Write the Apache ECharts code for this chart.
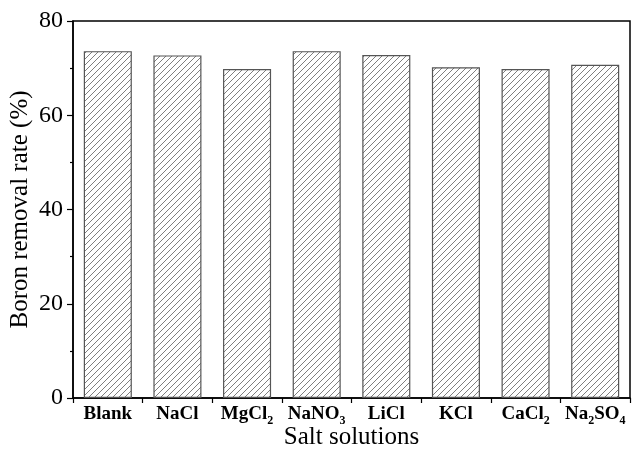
<!DOCTYPE html>
<html><head><meta charset="utf-8">
<script src="https://cdn.jsdelivr.net/npm/echarts@6/dist/echarts.min.js"></script>
<style>html,body{margin:0;padding:0;background:#fff}#c{width:641px;height:452px}</style>
</head><body><div id="c"></div>
<script>
var categories = ['Blank','NaCl','MgCl2','NaNO3','LiCl','KCl','CaCl2','Na2SO4'];
var removalRate = [73.6, 72.7, 69.8, 73.6, 72.8, 70.2, 69.8, 70.7];
var yTicks = [0, 20, 40, 60, 80];

function hatch(){
  var s = 6;
  var cv = document.createElement('canvas');
  cv.width = s; cv.height = s;
  var g = cv.getContext('2d');
  g.fillStyle = '#fff'; g.fillRect(0,0,s,s);
  g.strokeStyle = '#707070'; g.lineWidth = 0.9;
  g.beginPath();
  g.moveTo(0,s); g.lineTo(s,0);
  g.moveTo(-1,1); g.lineTo(1,-1);
  g.moveTo(s-1,s+1); g.lineTo(s+1,s-1);
  g.stroke();
  return cv;
}
function richLabel(v){
  var parts = v.split(/(\d)/);
  var out = '';
  parts.forEach(function(p){
    if (p === '') return;
    if (/^\d$/.test(p)) out += '{sub|' + p + '}';
    else out += '{n|' + p + '}';
  });
  return out;
}
var chart = echarts.init(document.getElementById('c'), null, {renderer:'canvas'});
var font = '"Liberation Serif","Times New Roman",serif';
chart.setOption({
  animation: false,
  grid: {left:73, right:11, top:21, bottom:54, containLabel:false, outerBoundsMode:'none', show:true, borderColor:'#000', borderWidth:1.5, backgroundColor:'transparent'},
  xAxis: [{
    type:'category', data: categories, position:'bottom',
    name:'Salt solutions', nameLocation:'middle', nameGap:27, nameMoveOverlap:false,
    nameTextStyle:{fontFamily:font, fontSize:25, color:'#000'},
    axisLine:{lineStyle:{color:'#000', width:1.5}},
    axisTick:{alignWithLabel:true, length:5, lineStyle:{color:'#000', width:1.2}},
    axisLabel:{margin:7, interval:0, formatter: richLabel,
      rich:{n:{fontFamily:font, fontSize:19, fontWeight:'bold', color:'#000', lineHeight:20, verticalAlign:'top'},
            sub:{fontFamily:font, fontSize:12, fontWeight:'bold', color:'#000', lineHeight:12, verticalAlign:'top', padding:[10,0,0,0]}}}
  },{
    type:'category', data: categories, position:'bottom',
    axisLine:{show:false},
    axisTick:{show:true, length:5, lineStyle:{color:'#000', width:1.2}},
    axisLabel:{show:false}
  }],
  yAxis: {
    type:'value', min: yTicks[0], max: yTicks[yTicks.length-1], interval:20,
    name:'Boron removal rate (%)', nameLocation:'middle', nameGap:40, nameMoveOverlap:false,
    nameTextStyle:{fontFamily:font, fontSize:25, color:'#000'},
    axisLine:{show:true, lineStyle:{color:'#000', width:1.5}},
    axisTick:{show:true, length:6, lineStyle:{color:'#000', width:1.2}},
    minorTick:{show:true, splitNumber:2, length:3, lineStyle:{color:'#000', width:1.2}},
    splitLine:{show:false},
    axisLabel:{fontFamily:font, fontSize:24, color:'#000', margin:10}
  },
  series: [{
    type:'bar', data: removalRate, xAxisIndex:0, barWidth:'69%',
    itemStyle:{color:{image:hatch(), repeat:'repeat'}, borderColor:'#555', borderWidth:1.2}
  }]
});
</script></body></html>
